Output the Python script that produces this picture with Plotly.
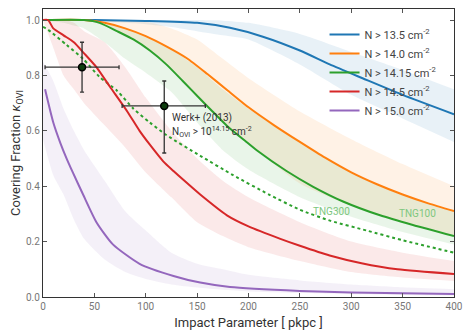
import plotly.graph_objects as go

# ---- data ----
band_x = [0, 10, 20, 30, 40, 60, 80, 100, 125, 150, 175, 200, 250, 300, 350, 400]

blue_x = [0, 50, 100, 150, 182, 214, 250, 279, 311, 350, 400]
blue_y = [1.0, 1.0, 0.997, 0.99, 0.972, 0.94, 0.89, 0.84, 0.79, 0.73, 0.66]
blue_hi = [1, 1, 1, 1, 1, 1, 1, 1, 1, 1, 0.998, 0.99, 0.95, 0.885, 0.82, 0.75]
blue_lo = [1, 1, 1, 1, 1, 0.995, 0.99, 0.985, 0.975, 0.96, 0.945, 0.93, 0.84, 0.73, 0.645, 0.56]

orange_x = [0, 40, 60, 80, 100, 120, 140, 160, 180, 200, 225, 250, 275, 300, 325, 350, 375, 400]
orange_y = [1.0, 1.0, 0.99, 0.97, 0.942, 0.905, 0.862, 0.805, 0.745, 0.685, 0.62, 0.56, 0.502, 0.45, 0.407, 0.37, 0.338, 0.31]
orange_hi = [1, 1, 1, 1, 1, 1, 1, 0.995, 0.97, 0.93, 0.86, 0.79, 0.67, 0.57, 0.48, 0.40]
orange_lo = [1, 1, 1, 1, 1, 0.985, 0.945, 0.9, 0.82, 0.72, 0.63, 0.555, 0.41, 0.33, 0.27, 0.22]

green_x = [0, 40, 55, 72, 88, 104, 120, 136, 153, 165, 180, 198, 208, 237, 263, 292, 328, 360, 400]
green_y = [1.0, 1.0, 0.99, 0.96, 0.93, 0.89, 0.84, 0.78, 0.715, 0.67, 0.615, 0.56, 0.53, 0.455, 0.398, 0.345, 0.295, 0.26, 0.22]
green_hi = [1, 1, 1, 1, 1, 0.99, 0.97, 0.94, 0.895, 0.83, 0.75, 0.68, 0.56, 0.45, 0.37, 0.31]
green_lo = [1, 0.995, 0.99, 0.98, 0.97, 0.92, 0.86, 0.81, 0.74, 0.63, 0.53, 0.46, 0.36, 0.29, 0.235, 0.19]

tng300_x = [0, 5, 23, 39, 55, 72, 88, 104, 120, 153, 185, 220, 250, 280, 315, 350, 400]
tng300_y = [0.975, 0.965, 0.91, 0.86, 0.795, 0.745, 0.68, 0.63, 0.585, 0.51, 0.44, 0.37, 0.315, 0.275, 0.24, 0.205, 0.16]

red_x = [0, 5, 10, 20, 30, 40, 52, 65, 82, 94, 104, 117, 127, 136, 153, 179, 200, 231, 250, 279, 310, 345, 400]
red_y = [1.0, 1.0, 0.97, 0.945, 0.92, 0.88, 0.83, 0.76, 0.67, 0.6, 0.55, 0.49, 0.455, 0.425, 0.37, 0.295, 0.255, 0.21, 0.185, 0.15, 0.122, 0.10, 0.083]
red_hi = [1, 1, 1, 0.99, 0.96, 0.92, 0.83, 0.72, 0.6, 0.5, 0.42, 0.36, 0.27, 0.2, 0.16, 0.13]
red_lo = [1, 0.9, 0.8, 0.75, 0.7, 0.62, 0.54, 0.45, 0.36, 0.27, 0.22, 0.18, 0.13, 0.09, 0.07, 0.058]

purple_x = [2, 10, 17, 23, 29, 39, 52, 68, 94, 127, 153, 182, 250, 300, 400]
purple_y = [0.75, 0.63, 0.555, 0.5, 0.45, 0.37, 0.27, 0.19, 0.12, 0.076, 0.052, 0.036, 0.022, 0.016, 0.011]
purple_hi = [0.85, 0.78, 0.68, 0.6, 0.53, 0.42, 0.31, 0.24, 0.16, 0.12, 0.1, 0.08, 0.06, 0.045, 0.035, 0.028]
purple_lo = [0.57, 0.44, 0.37, 0.28, 0.21, 0.135, 0.09, 0.065, 0.045, 0.034, 0.026, 0.02, 0.014, 0.01, 0.007, 0.005]

werk_x = [38, 118]
werk_y = [0.83, 0.69]
werk_xm = [36, 41]
werk_xp = [36, 40]
werk_ym = [0.09, 0.17]
werk_yp = [0.09, 0.09]

labels = ["N > 13.5 cm<sup>-2</sup>", "N > 14.0 cm<sup>-2</sup>", "N > 14.15 cm<sup>-2</sup>",
          "N > 14.5 cm<sup>-2</sup>", "N > 15.0 cm<sup>-2</sup>"]
colors = ["#1f77b4", "#ff7f0e", "#2ca02c", "#d62728", "#9467bd"]
fills = ["rgba(31,119,180,0.1)", "rgba(255,127,14,0.1)", "rgba(44,160,44,0.1)",
         "rgba(214,39,40,0.1)", "rgba(148,103,189,0.1)"]

fig = go.Figure()

# shaded bands
bands = [(blue_lo, blue_hi), (orange_lo, orange_hi), (green_lo, green_hi), (red_lo, red_hi), (purple_lo, purple_hi)]
for (lo, hi), fc in zip(bands, fills):
    fig.add_trace(go.Scatter(x=band_x, y=lo, mode="lines", line=dict(width=0, shape="spline", smoothing=0.6),
                             showlegend=False, hoverinfo="skip"))
    fig.add_trace(go.Scatter(x=band_x, y=hi, mode="lines", line=dict(width=0, shape="spline", smoothing=0.6),
                             fill="tonexty", fillcolor=fc, showlegend=False, hoverinfo="skip"))

fig.add_trace(go.Scatter(x=tng300_x, y=tng300_y, mode="lines", showlegend=False,
                         line=dict(color="#2ca02c", width=2, dash="3px,3px", shape="spline", smoothing=0.6)))

series = [(blue_x, blue_y), (orange_x, orange_y), (green_x, green_y), (red_x, red_y), (purple_x, purple_y)]
for (xs, ys), lab, c in zip(series, labels, colors):
    fig.add_trace(go.Scatter(x=xs, y=ys, mode="lines", name=lab,
                             line=dict(color=c, width=2, shape="spline", smoothing=0.6)))

fig.add_trace(go.Scatter(
    x=werk_x, y=werk_y, mode="markers", showlegend=False,
    marker=dict(size=7, color="#0d3d0d", line=dict(color="black", width=1.5)),
    error_x=dict(type="data", symmetric=False, array=werk_xp, arrayminus=werk_xm, color="#333", thickness=1.3, width=2),
    error_y=dict(type="data", symmetric=False, array=werk_yp, arrayminus=werk_ym, color="#333", thickness=1.3, width=2),
))

fig.add_annotation(x=124, y=0.646, text="Werk+ (2013)", showarrow=False, xanchor="left",
                   font=dict(size=10, color="#333"))
fig.add_annotation(x=124, y=0.596, text="N<sub>OVI</sub> > 10<sup>14.15</sup> cm<sup>-2</sup>", showarrow=False,
                   xanchor="left", font=dict(size=10, color="#333"))
fig.add_annotation(x=281, y=0.307, text="TNG300", showarrow=False, font=dict(size=10, color="#7ec77e"))
fig.add_annotation(x=364, y=0.30, text="TNG100", showarrow=False, font=dict(size=10, color="#7ec77e"))

# page body has an 8px margin, so the figure is sized to fit the window
fig.update_layout(
    width=463, height=328,
    margin=dict(l=35, r=17, t=1, b=39),
    paper_bgcolor="white", plot_bgcolor="white",
    font=dict(family="Roboto", color="#444"),
    legend=dict(x=0.685, y=0.962, xanchor="left", yanchor="top", bgcolor="rgba(0,0,0,0)",
                traceorder="normal", font=dict(size=11, color="#444"), tracegroupgap=0, itemwidth=30),
)
fig.update_xaxes(range=[0, 400], tickvals=[0, 50, 100, 150, 200, 250, 300, 350, 400], automargin=False,
                 showgrid=False, zeroline=False, showline=True, linecolor="#333", linewidth=1.2, mirror="allticks",
                 ticks="inside", ticklen=4, tickcolor="#555", tickfont=dict(size=10, color="#777"),
                 title=dict(text="Impact Parameter [ pkpc ]", font=dict(size=13, color="#333"), standoff=6))
fig.update_yaxes(range=[0, 1.04], tickvals=[0, 0.2, 0.4, 0.6, 0.8, 1.0], tickformat=".1f", automargin=False,
                 showgrid=False, zeroline=False, showline=True, linecolor="#333", linewidth=1.2, mirror="allticks",
                 ticks="inside", ticklen=4, tickcolor="#555", tickfont=dict(size=10, color="#777"),
                 title=dict(text="Covering Fraction <i>κ</i><sub>OVI</sub>", font=dict(size=13, color="#333"), standoff=8))

fig.write_html("out.html")
